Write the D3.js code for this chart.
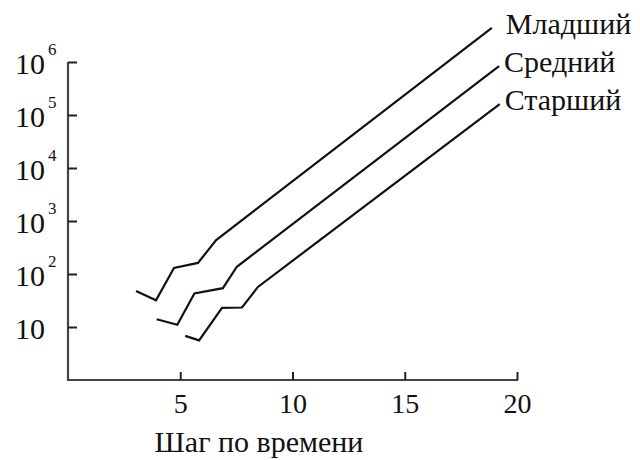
<!DOCTYPE html>
<html><head><meta charset="utf-8">
<script src="https://cdn.jsdelivr.net/npm/d3@7"></script>
<style>
html,body{margin:0;padding:0;background:#fff;}
text{font-family:"Liberation Serif","Times New Roman",serif;fill:#111;}
</style></head>
<body><svg id="chart" width="640" height="460"></svg>
<script>
const seriesNames = ["Младший", "Средний", "Старший"];
const youngX = [3.03, 3.92, 4.72, 5.79, 6.6, 18.88];
const youngY = [48, 32, 130, 162, 437, 4.4e6];
const middleX = [3.95, 4.87, 5.63, 6.9, 7.52, 19.2];
const middleY = [14, 11, 43, 54, 137, 8.4e5];
const oldX = [5.22, 5.84, 6.86, 7.75, 8.46, 19.23];
const oldY = [6.8, 5.6, 23, 23.3, 57, 1.6e5];
const xTicks = [5, 10, 15, 20];
const yTicks = [10, 100, 1e3, 1e4, 1e5, 1e6];
const xTitle = "Шаг по времени";

const svg = d3.select("#chart");
const x = d3.scaleLinear().domain([0, 20]).range([68, 517]);
const y = d3.scaleLog().domain([1, 1e6]).range([380, 62]);

const series = seriesNames.map((name, i) => {
  const xs = [youngX, middleX, oldX][i], ys = [youngY, middleY, oldY][i];
  return {name, pts: xs.map((v, j) => [v, ys[j]])};
});

// axes
const gx = svg.append("g").attr("transform", "translate(0,380)")
  .call(d3.axisBottom(x).tickValues(xTicks).tickSize(-8).tickPadding(13).tickFormat(d3.format("d")));
gx.select(".domain").attr("d", `M${x(0)},0H${x(20)+1}`).attr("stroke", "#444").attr("stroke-width", 2.2);
gx.selectAll(".tick line").attr("stroke", "#222").attr("stroke-width", 2);
gx.selectAll(".tick text").attr("font-size", 28).attr("font-family", "Liberation Serif").attr("fill", "#111").attr("dy", "0.71em");

const gy = svg.append("g").attr("transform", "translate(68,0)")
  .call(d3.axisLeft(y).tickValues(yTicks).tickSize(-9).tickFormat(""));
gy.select(".domain").attr("d", `M0,${y(1)+1}V${y(1e6)}`).attr("stroke", "#444").attr("stroke-width", 2.2);
gy.selectAll(".tick line").attr("stroke", "#222").attr("stroke-width", 2);

// y tick labels with superscripts
yTicks.forEach(v => {
  const e = Math.round(Math.log10(v));
  svg.append("text").attr("x", 45).attr("y", y(v) + 12)
    .attr("font-size", 30).attr("text-anchor", "end").text("10");
  if (e > 1) {
    svg.append("text").attr("x", 48).attr("y", y(v) - 7)
      .attr("font-size", 17).text(e);
  }
});

// lines
const line = d3.line().x(d => x(d[0])).y(d => y(d[1]));
svg.selectAll("path.series").data(series).join("path")
  .attr("class", "series").attr("d", d => line(d.pts))
  .attr("fill", "none").attr("stroke", "#111").attr("stroke-width", 2.2)
  .attr("stroke-linejoin", "miter");

// series labels
svg.selectAll("text.lab").data(series).join("text")
  .attr("class", "lab")
  .attr("x", (d, i) => x(d.pts[d.pts.length-1][0]) + (i === 0 ? 14 : 5))
  .attr("y", d => y(d.pts[d.pts.length-1][1]) + 6)
  .attr("font-size", 30).text(d => d.name);

svg.append("text").attr("x", 259).attr("y", 452).attr("text-anchor", "middle")
  .attr("font-size", 30).text(xTitle);
</script></body></html>
